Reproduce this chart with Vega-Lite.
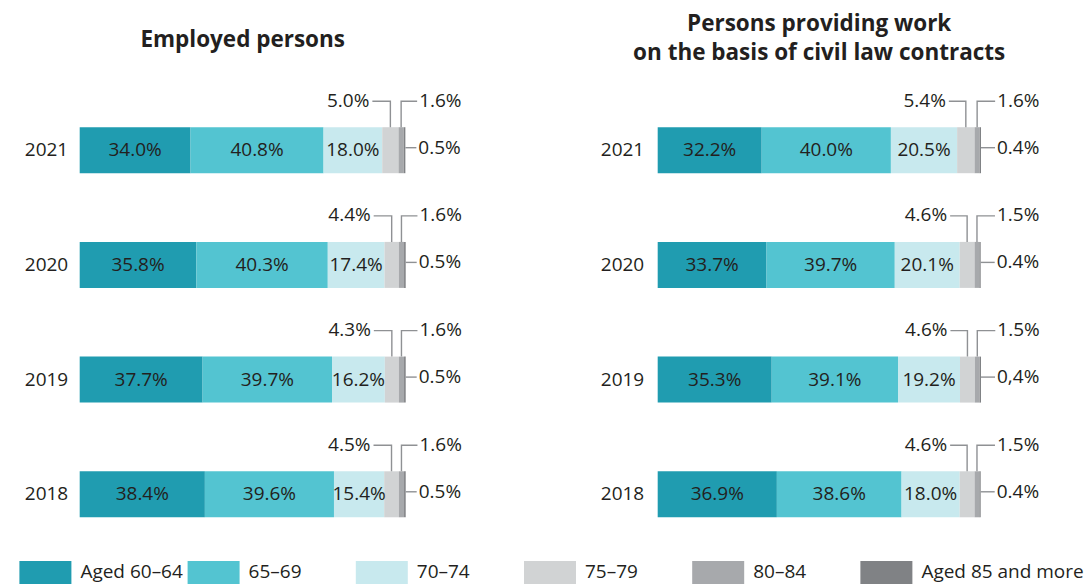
{
  "$schema": "https://vega.github.io/schema/vega-lite/v6.json",
  "autosize": {"type": "pad"},
  "padding": {"left": 18.7, "top": 11.8, "right": 0, "bottom": 0},
  "bounds": "flush",
  "columns": 2,
  "spacing": {"column": 252, "row": 9.2},
  "config": {
    "view": {"stroke": null},
    "font": "Open Sans",
    "axis": {"labelFont": "Open Sans", "labelFontSize": 19, "labelColor": "#231f20", "domain": false, "ticks": false, "grid": false, "title": null},
    "title": {"font": "Open Sans", "fontSize": 22.5, "fontWeight": "bold", "color": "#231f20", "anchor": "middle", "lineHeight": 29}
  },
  "datasets": {
    "rows": [
      {"panel": "E", "year": 2021, "cat": "Aged 60–64", "ord": 1, "value": 34.0, "label": "34.0%"},
      {"panel": "E", "year": 2021, "cat": "65–69", "ord": 2, "value": 40.8, "label": "40.8%"},
      {"panel": "E", "year": 2021, "cat": "70–74", "ord": 3, "value": 18.0, "label": "18.0%"},
      {"panel": "E", "year": 2021, "cat": "75–79", "ord": 4, "value": 5.0, "label": "5.0%"},
      {"panel": "E", "year": 2021, "cat": "80–84", "ord": 5, "value": 1.6, "label": "1.6%"},
      {"panel": "E", "year": 2021, "cat": "Aged 85 and more", "ord": 6, "value": 0.5, "label": "0.5%"},
      {"panel": "E", "year": 2020, "cat": "Aged 60–64", "ord": 1, "value": 35.8, "label": "35.8%"},
      {"panel": "E", "year": 2020, "cat": "65–69", "ord": 2, "value": 40.3, "label": "40.3%"},
      {"panel": "E", "year": 2020, "cat": "70–74", "ord": 3, "value": 17.4, "label": "17.4%"},
      {"panel": "E", "year": 2020, "cat": "75–79", "ord": 4, "value": 4.4, "label": "4.4%"},
      {"panel": "E", "year": 2020, "cat": "80–84", "ord": 5, "value": 1.6, "label": "1.6%"},
      {"panel": "E", "year": 2020, "cat": "Aged 85 and more", "ord": 6, "value": 0.5, "label": "0.5%"},
      {"panel": "E", "year": 2019, "cat": "Aged 60–64", "ord": 1, "value": 37.7, "label": "37.7%"},
      {"panel": "E", "year": 2019, "cat": "65–69", "ord": 2, "value": 39.7, "label": "39.7%"},
      {"panel": "E", "year": 2019, "cat": "70–74", "ord": 3, "value": 16.2, "label": "16.2%"},
      {"panel": "E", "year": 2019, "cat": "75–79", "ord": 4, "value": 4.3, "label": "4.3%"},
      {"panel": "E", "year": 2019, "cat": "80–84", "ord": 5, "value": 1.6, "label": "1.6%"},
      {"panel": "E", "year": 2019, "cat": "Aged 85 and more", "ord": 6, "value": 0.5, "label": "0.5%"},
      {"panel": "E", "year": 2018, "cat": "Aged 60–64", "ord": 1, "value": 38.4, "label": "38.4%"},
      {"panel": "E", "year": 2018, "cat": "65–69", "ord": 2, "value": 39.6, "label": "39.6%"},
      {"panel": "E", "year": 2018, "cat": "70–74", "ord": 3, "value": 15.4, "label": "15.4%"},
      {"panel": "E", "year": 2018, "cat": "75–79", "ord": 4, "value": 4.5, "label": "4.5%"},
      {"panel": "E", "year": 2018, "cat": "80–84", "ord": 5, "value": 1.6, "label": "1.6%"},
      {"panel": "E", "year": 2018, "cat": "Aged 85 and more", "ord": 6, "value": 0.5, "label": "0.5%"},
      {"panel": "C", "year": 2021, "cat": "Aged 60–64", "ord": 1, "value": 32.2, "label": "32.2%"},
      {"panel": "C", "year": 2021, "cat": "65–69", "ord": 2, "value": 40.0, "label": "40.0%"},
      {"panel": "C", "year": 2021, "cat": "70–74", "ord": 3, "value": 20.5, "label": "20.5%"},
      {"panel": "C", "year": 2021, "cat": "75–79", "ord": 4, "value": 5.4, "label": "5.4%"},
      {"panel": "C", "year": 2021, "cat": "80–84", "ord": 5, "value": 1.6, "label": "1.6%"},
      {"panel": "C", "year": 2021, "cat": "Aged 85 and more", "ord": 6, "value": 0.4, "label": "0.4%"},
      {"panel": "C", "year": 2020, "cat": "Aged 60–64", "ord": 1, "value": 33.7, "label": "33.7%"},
      {"panel": "C", "year": 2020, "cat": "65–69", "ord": 2, "value": 39.7, "label": "39.7%"},
      {"panel": "C", "year": 2020, "cat": "70–74", "ord": 3, "value": 20.1, "label": "20.1%"},
      {"panel": "C", "year": 2020, "cat": "75–79", "ord": 4, "value": 4.6, "label": "4.6%"},
      {"panel": "C", "year": 2020, "cat": "80–84", "ord": 5, "value": 1.5, "label": "1.5%"},
      {"panel": "C", "year": 2020, "cat": "Aged 85 and more", "ord": 6, "value": 0.4, "label": "0.4%"},
      {"panel": "C", "year": 2019, "cat": "Aged 60–64", "ord": 1, "value": 35.3, "label": "35.3%"},
      {"panel": "C", "year": 2019, "cat": "65–69", "ord": 2, "value": 39.1, "label": "39.1%"},
      {"panel": "C", "year": 2019, "cat": "70–74", "ord": 3, "value": 19.2, "label": "19.2%"},
      {"panel": "C", "year": 2019, "cat": "75–79", "ord": 4, "value": 4.6, "label": "4.6%"},
      {"panel": "C", "year": 2019, "cat": "80–84", "ord": 5, "value": 1.5, "label": "1.5%"},
      {"panel": "C", "year": 2019, "cat": "Aged 85 and more", "ord": 6, "value": 0.4, "label": "0,4%"},
      {"panel": "C", "year": 2018, "cat": "Aged 60–64", "ord": 1, "value": 36.9, "label": "36.9%"},
      {"panel": "C", "year": 2018, "cat": "65–69", "ord": 2, "value": 38.6, "label": "38.6%"},
      {"panel": "C", "year": 2018, "cat": "70–74", "ord": 3, "value": 18.0, "label": "18.0%"},
      {"panel": "C", "year": 2018, "cat": "75–79", "ord": 4, "value": 4.6, "label": "4.6%"},
      {"panel": "C", "year": 2018, "cat": "80–84", "ord": 5, "value": 1.5, "label": "1.5%"},
      {"panel": "C", "year": 2018, "cat": "Aged 85 and more", "ord": 6, "value": 0.4, "label": "0.4%"}
    ],
    "cats": [
      {"cat": "Aged 60–64", "ord": 1},
      {"cat": "65–69", "ord": 2},
      {"cat": "70–74", "ord": 3},
      {"cat": "75–79", "ord": 4},
      {"cat": "80–84", "ord": 5},
      {"cat": "Aged 85 and more", "ord": 6}
    ]
  },
  "resolve": {"scale": {"color": "shared"}},
  "concat": [
    {
      "data": {"name": "rows"},
      "width": 326,
      "height": 458.9,
      "title": {"text": "Employed persons", "offset": 40.5},
      "transform": [{"filter": "datum.panel === 'E'"}],
      "encoding": {
        "y": {"field": "year", "type": "nominal", "sort": "descending", "scale": {"paddingInner": 0.599, "paddingOuter": 0.3}, "axis": {"labelPadding": 12}}
      },
      "layer": [
        {
          "mark": {"type": "bar"},
          "encoding": {
            "x": {"field": "value", "type": "quantitative", "stack": "zero", "scale": {"domain": [0, 100], "nice": false}, "axis": null},
            "color": {"field": "cat", "type": "nominal", "scale": {"domain": ["Aged 60–64", "65–69", "70–74", "75–79", "80–84", "Aged 85 and more"], "range": ["#209cb0", "#53c4d1", "#c8e9ee", "#d1d3d4", "#a7a9ac", "#808285"]}, "legend": null},
            "order": {"field": "ord", "type": "quantitative"}
          }
        },
        {
          "mark": {"type": "text", "fontSize": 19, "color": "#231f20", "align": "center", "baseline": "middle"},
          "encoding": {
            "x": {"field": "value", "type": "quantitative", "stack": "zero", "bandPosition": 0.5, "axis": null},
            "detail": {"field": "cat"},
            "order": {"field": "ord", "type": "quantitative"},
            "text": {"condition": {"test": "datum.ord <= 3", "field": "label"}, "value": ""}
          }
        },
        {
          "mark": {"type": "point", "shape": "M0,-23V-49H-18", "size": 4, "filled": false, "stroke": "#8f9194", "strokeWidth": 1.4},
          "encoding": {
            "x": {"field": "value", "type": "quantitative", "stack": "zero", "bandPosition": 0.5, "axis": null},
            "detail": {"field": "cat"},
            "order": {"field": "ord", "type": "quantitative"},
            "opacity": {"condition": {"test": "datum.ord === 4", "value": 1}, "value": 0}
          }
        },
        {
          "mark": {"type": "point", "shape": "M0,-23V-49H16", "size": 4, "filled": false, "stroke": "#8f9194", "strokeWidth": 1.4},
          "encoding": {
            "x": {"field": "value", "type": "quantitative", "stack": "zero", "bandPosition": 0.5, "axis": null},
            "detail": {"field": "cat"},
            "order": {"field": "ord", "type": "quantitative"},
            "opacity": {"condition": {"test": "datum.ord === 5", "value": 1}, "value": 0}
          }
        },
        {
          "mark": {"type": "point", "shape": "M0,-2.5H11", "size": 4, "filled": false, "stroke": "#8f9194", "strokeWidth": 1.4},
          "encoding": {
            "x": {"field": "value", "type": "quantitative", "stack": "zero", "axis": null},
            "detail": {"field": "cat"},
            "order": {"field": "ord", "type": "quantitative"},
            "opacity": {"condition": {"test": "datum.ord === 6", "value": 1}, "value": 0}
          }
        },
        {
          "mark": {"type": "text", "fontSize": 19, "color": "#231f20", "align": "right", "baseline": "middle", "dx": -21, "dy": -49.5},
          "encoding": {
            "x": {"field": "value", "type": "quantitative", "stack": "zero", "bandPosition": 0.5, "axis": null},
            "detail": {"field": "cat"},
            "order": {"field": "ord", "type": "quantitative"},
            "text": {"condition": {"test": "datum.ord === 4", "field": "label"}, "value": ""}
          }
        },
        {
          "mark": {"type": "text", "fontSize": 19, "color": "#231f20", "align": "left", "baseline": "middle", "dx": 18, "dy": -49.5},
          "encoding": {
            "x": {"field": "value", "type": "quantitative", "stack": "zero", "bandPosition": 0.5, "axis": null},
            "detail": {"field": "cat"},
            "order": {"field": "ord", "type": "quantitative"},
            "text": {"condition": {"test": "datum.ord === 5", "field": "label"}, "value": ""}
          }
        },
        {
          "mark": {"type": "text", "fontSize": 19, "color": "#231f20", "align": "left", "baseline": "middle", "dx": 13, "dy": -2.5},
          "encoding": {
            "x": {"field": "value", "type": "quantitative", "stack": "zero", "axis": null},
            "detail": {"field": "cat"},
            "order": {"field": "ord", "type": "quantitative"},
            "text": {"condition": {"test": "datum.ord === 6", "field": "label"}, "value": ""}
          }
        }
      ]
    },
    {
      "data": {"name": "rows"},
      "width": 323,
      "height": 458.9,
      "title": {"text": ["Persons providing work", "on the basis of civil law contracts"], "offset": 27.5},
      "transform": [{"filter": "datum.panel === 'C'"}],
      "encoding": {
        "y": {"field": "year", "type": "nominal", "sort": "descending", "scale": {"paddingInner": 0.599, "paddingOuter": 0.3}, "axis": {"labelPadding": 14}}
      },
      "layer": [
        {
          "mark": {"type": "bar"},
          "encoding": {
            "x": {"field": "value", "type": "quantitative", "stack": "zero", "scale": {"domain": [0, 100], "nice": false}, "axis": null},
            "color": {"field": "cat", "type": "nominal", "scale": {"domain": ["Aged 60–64", "65–69", "70–74", "75–79", "80–84", "Aged 85 and more"], "range": ["#209cb0", "#53c4d1", "#c8e9ee", "#d1d3d4", "#a7a9ac", "#808285"]}, "legend": null},
            "order": {"field": "ord", "type": "quantitative"}
          }
        },
        {
          "mark": {"type": "text", "fontSize": 19, "color": "#231f20", "align": "center", "baseline": "middle"},
          "encoding": {
            "x": {"field": "value", "type": "quantitative", "stack": "zero", "bandPosition": 0.5, "axis": null},
            "detail": {"field": "cat"},
            "order": {"field": "ord", "type": "quantitative"},
            "text": {"condition": {"test": "datum.ord <= 3", "field": "label"}, "value": ""}
          }
        },
        {
          "mark": {"type": "point", "shape": "M0,-23V-49H-17", "size": 4, "filled": false, "stroke": "#8f9194", "strokeWidth": 1.4},
          "encoding": {
            "x": {"field": "value", "type": "quantitative", "stack": "zero", "bandPosition": 0.5, "axis": null},
            "detail": {"field": "cat"},
            "order": {"field": "ord", "type": "quantitative"},
            "opacity": {"condition": {"test": "datum.ord === 4", "value": 1}, "value": 0}
          }
        },
        {
          "mark": {"type": "point", "shape": "M0,-23V-49H18", "size": 4, "filled": false, "stroke": "#8f9194", "strokeWidth": 1.4},
          "encoding": {
            "x": {"field": "value", "type": "quantitative", "stack": "zero", "bandPosition": 0.5, "axis": null},
            "detail": {"field": "cat"},
            "order": {"field": "ord", "type": "quantitative"},
            "opacity": {"condition": {"test": "datum.ord === 5", "value": 1}, "value": 0}
          }
        },
        {
          "mark": {"type": "point", "shape": "M0,-2.5H14", "size": 4, "filled": false, "stroke": "#8f9194", "strokeWidth": 1.4},
          "encoding": {
            "x": {"field": "value", "type": "quantitative", "stack": "zero", "axis": null},
            "detail": {"field": "cat"},
            "order": {"field": "ord", "type": "quantitative"},
            "opacity": {"condition": {"test": "datum.ord === 6", "value": 1}, "value": 0}
          }
        },
        {
          "mark": {"type": "text", "fontSize": 19, "color": "#231f20", "align": "right", "baseline": "middle", "dx": -20, "dy": -49.5},
          "encoding": {
            "x": {"field": "value", "type": "quantitative", "stack": "zero", "bandPosition": 0.5, "axis": null},
            "detail": {"field": "cat"},
            "order": {"field": "ord", "type": "quantitative"},
            "text": {"condition": {"test": "datum.ord === 4", "field": "label"}, "value": ""}
          }
        },
        {
          "mark": {"type": "text", "fontSize": 19, "color": "#231f20", "align": "left", "baseline": "middle", "dx": 20, "dy": -49.5},
          "encoding": {
            "x": {"field": "value", "type": "quantitative", "stack": "zero", "bandPosition": 0.5, "axis": null},
            "detail": {"field": "cat"},
            "order": {"field": "ord", "type": "quantitative"},
            "text": {"condition": {"test": "datum.ord === 5", "field": "label"}, "value": ""}
          }
        },
        {
          "mark": {"type": "text", "fontSize": 19, "color": "#231f20", "align": "left", "baseline": "middle", "dx": 16, "dy": -2.5},
          "encoding": {
            "x": {"field": "value", "type": "quantitative", "stack": "zero", "axis": null},
            "detail": {"field": "cat"},
            "order": {"field": "ord", "type": "quantitative"},
            "text": {"condition": {"test": "datum.ord === 6", "field": "label"}, "value": ""}
          }
        }
      ]
    },
    {
      "data": {"name": "cats"},
      "width": 326,
      "height": 23,
      "encoding": {
        "x": {"field": "cat", "type": "nominal", "sort": ["Aged 60–64", "65–69", "70–74", "75–79", "80–84", "Aged 85 and more"], "scale": {"range": [-60.3, 948.9], "paddingInner": 0, "paddingOuter": 0}, "axis": null}
      },
      "layer": [
        {
          "mark": {"type": "point", "shape": "M-1,-0.442H1V0.442H-1Z", "size": 2704, "filled": true, "opacity": 1, "strokeWidth": 0, "xOffset": -58.1},
          "encoding": {
            "color": {"field": "cat", "type": "nominal", "scale": {"domain": ["Aged 60–64", "65–69", "70–74", "75–79", "80–84", "Aged 85 and more"], "range": ["#209cb0", "#53c4d1", "#c8e9ee", "#d1d3d4", "#a7a9ac", "#808285"]}, "legend": null}
          }
        },
        {
          "mark": {"type": "text", "fontSize": 19, "color": "#231f20", "align": "left", "baseline": "middle", "dx": -23.1},
          "encoding": {
            "text": {"field": "cat"}
          }
        }
      ]
    }
  ]
}
